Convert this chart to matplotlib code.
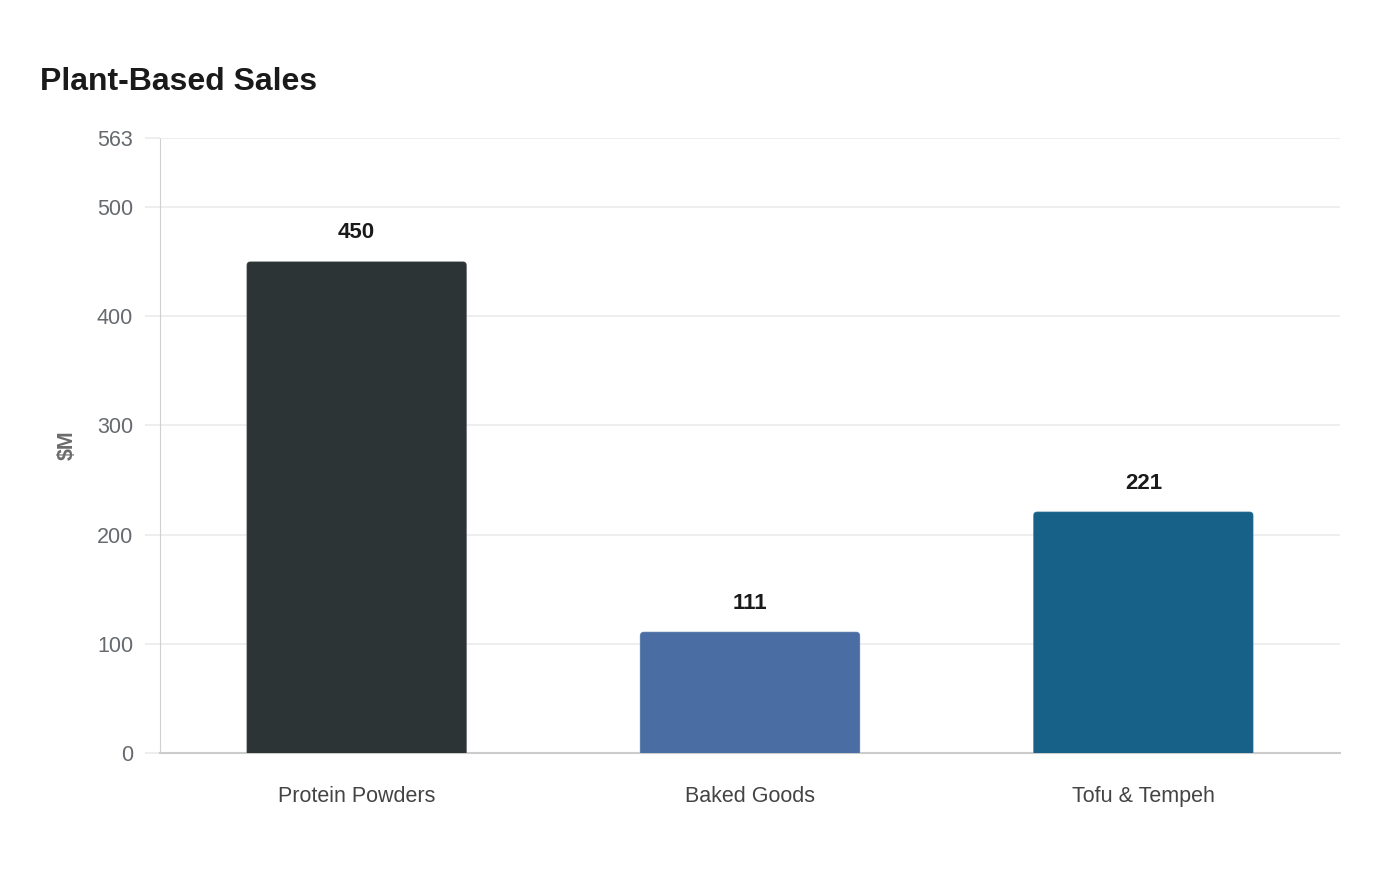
import matplotlib.pyplot as plt
from matplotlib.patches import FancyBboxPatch

plt.rcParams['font.family'] = ['Liberation Sans', 'DejaVu Sans']

# --- Data ---
categories = ["Protein Powders", "Baked Goods", "Tofu & Tempeh"]
sales = [450, 111, 221]
bar_colors = ["#2d3436", "#4a6ea3", "#176188"]
y_ticks = [0, 100, 200, 300, 400, 500, 563]
y_max = 563

fig = plt.figure(figsize=(14, 8.8), dpi=100)
ax = fig.add_axes([160 / 1400, 1 - 753 / 880, 1180 / 1400, 615 / 880])

ax.set_xlim(-0.5, len(categories) - 0.5)
ax.set_ylim(0, y_max)

# rounded-top bars (bottom corners pushed below zero and clipped)
bar_w = 0.56
px_x = (len(categories)) / 1180      # data units per pixel (x)
px_y = y_max / 615                   # data units per pixel (y)
r_px = 4
for i, (v, c) in enumerate(zip(sales, bar_colors)):
    patch = FancyBboxPatch(
        (i - bar_w / 2, -10), bar_w, v + 10,
        boxstyle=f"round,pad=0,rounding_size={r_px * px_x}",
        mutation_aspect=px_y / px_x,
        facecolor=c, edgecolor=(1, 1, 1, 0.25), linewidth=0.8,
        clip_on=True, zorder=3)
    ax.add_patch(patch)
    ax.annotate(f"{v}", (i, v), xytext=(0, 20.5), textcoords="offset points",
                ha="center", va="center", fontsize=16, fontweight="bold",
                color="#1a1a1a", zorder=4)

# grid & axes
ax.set_yticks(y_ticks)
ax.set_yticklabels([str(t) for t in y_ticks])
ax.grid(axis="y", color="#ebebeb", linewidth=1.2, zorder=0)
ax.set_axisbelow(True)
ax.tick_params(axis="y", length=10.8, color="#ebebeb", width=1.2, pad=8.6,
               labelsize=15.5, labelcolor="#666a6e")
ax.set_xticks(range(len(categories)))
ax.set_xticklabels(categories)
ax.tick_params(axis="x", length=0, pad=23.5, labelsize=15.5, labelcolor="#444444")

for s in ["top", "right"]:
    ax.spines[s].set_visible(False)
ax.spines["left"].set_color("#d0d0d0")
ax.spines["left"].set_linewidth(0.8)
ax.spines["left"].set_linestyle((0, (1, 1)))
ax.spines["bottom"].set_color("#cccccc")
ax.spines["bottom"].set_linewidth(1.5)

ax.set_ylabel("$M", fontsize=15.5, fontweight="bold", color="#6b6b6b", labelpad=13.6)

fig.text(40 / 1400, 1 - 82 / 880, "Plant-Based Sales", fontsize=23,
         fontweight="bold", color="#1a1a1a", ha="left", va="center")

fig.savefig("out.png", dpi=100, facecolor="white")
